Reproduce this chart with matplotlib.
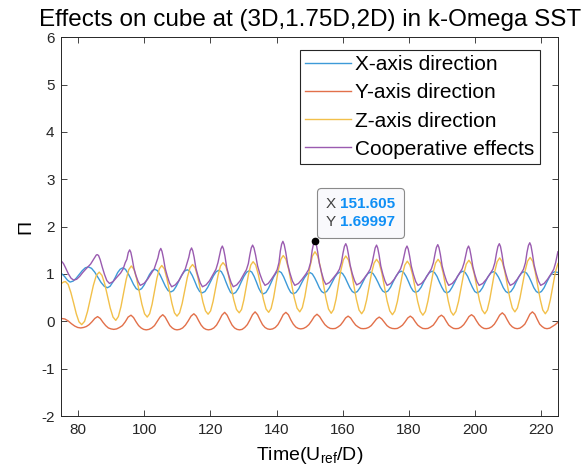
import matplotlib
matplotlib.use('Agg')
import matplotlib.pyplot as plt
from matplotlib.offsetbox import TextArea, HPacker, VPacker, AnnotationBbox

plt.rcParams['font.family'] = ['Liberation Sans', 'DejaVu Sans']
plt.rcParams['axes.unicode_minus'] = False

# (time, value)
x_pts = [(75.0, 1.01), (75.9, 0.95), (76.8, 0.87), (77.6, 0.83),
         (78.52, 0.85), (79.43, 0.91), (80.35, 0.99), (81.27, 1.07), (82.18, 1.13), (83.1, 1.15),
         (84.07, 1.12), (85.03, 1.04), (86.0, 0.93), (86.97, 0.82), (87.93, 0.74), (88.9, 0.71),
         (89.67, 0.74), (90.43, 0.82), (91.2, 0.92), (91.97, 1.03), (92.73, 1.10), (93.5, 1.13),
         (94.32, 1.10), (95.13, 1.01), (95.95, 0.90), (96.77, 0.78), (97.58, 0.69), (98.4, 0.66),
         (99.2, 0.69), (100.0, 0.77), (100.8, 0.88), (101.6, 0.99), (102.4, 1.07), (103.2, 1.10),
         (104.0, 1.07), (104.8, 0.98), (105.6, 0.86), (106.4, 0.74), (107.2, 0.65), (108.0, 0.62),
         (108.83, 0.65), (109.67, 0.74), (110.5, 0.86), (111.33, 0.97), (112.17, 1.06), (113.0, 1.09),
         (113.75, 1.06), (114.5, 0.97), (115.25, 0.85), (116.0, 0.72), (116.75, 0.63), (117.5, 0.60),
         (118.35, 0.63), (119.2, 0.72), (120.05, 0.84), (120.9, 0.96), (121.75, 1.05), (122.6, 1.08),
         (123.3, 1.05), (124.0, 0.96), (124.7, 0.83), (125.4, 0.71), (126.1, 0.61), (126.8, 0.58),
         (127.63, 0.61), (128.47, 0.70), (129.3, 0.83), (130.13, 0.95), (130.97, 1.04), (131.8, 1.07),
         (132.5, 1.04), (133.2, 0.95), (133.9, 0.83), (134.6, 0.70), (135.3, 0.61), (136.0, 0.58),
         (136.78, 0.61), (137.57, 0.70), (138.35, 0.82), (139.13, 0.94), (139.92, 1.03), (140.7, 1.06),
         (141.42, 1.03), (142.13, 0.94), (142.85, 0.82), (143.57, 0.70), (144.28, 0.61), (145.0, 0.58),
         (145.85, 0.61), (146.7, 0.69), (147.55, 0.81), (148.4, 0.92), (149.25, 1.00), (150.1, 1.03),
         (150.8, 1.00), (151.5, 0.92), (152.2, 0.82), (152.9, 0.71), (153.6, 0.63), (154.3, 0.60),
         (155.12, 0.63), (155.93, 0.71), (156.75, 0.82), (157.57, 0.93), (158.38, 1.01), (159.2, 1.04),
         (159.93, 1.01), (160.67, 0.93), (161.4, 0.82), (162.13, 0.71), (162.87, 0.63), (163.6, 0.60),
         (164.4, 0.63), (165.2, 0.71), (166.0, 0.82), (166.8, 0.93), (167.6, 1.01), (168.4, 1.04),
         (169.13, 1.01), (169.87, 0.93), (170.6, 0.83), (171.33, 0.72), (172.07, 0.64), (172.8, 0.61),
         (173.62, 0.64), (174.43, 0.72), (175.25, 0.84), (176.07, 0.95), (176.88, 1.03), (177.7, 1.06),
         (178.42, 1.03), (179.13, 0.95), (179.85, 0.84), (180.57, 0.72), (181.28, 0.64), (182.0, 0.61),
         (182.83, 0.64), (183.67, 0.72), (184.5, 0.84), (185.33, 0.95), (186.17, 1.03), (187.0, 1.06),
         (187.73, 1.03), (188.47, 0.95), (189.2, 0.83), (189.93, 0.72), (190.67, 0.63), (191.4, 0.60),
         (192.22, 0.63), (193.03, 0.72), (193.85, 0.83), (194.67, 0.95), (195.48, 1.03), (196.3, 1.06),
         (197.02, 1.03), (197.73, 0.95), (198.45, 0.83), (199.17, 0.72), (199.88, 0.63), (200.6, 0.60),
         (201.42, 0.63), (202.23, 0.71), (203.05, 0.83), (203.87, 0.94), (204.68, 1.02), (205.5, 1.05),
         (206.25, 1.02), (207.0, 0.94), (207.75, 0.83), (208.5, 0.71), (209.25, 0.63), (210.0, 0.60),
         (210.8, 0.63), (211.6, 0.71), (212.4, 0.83), (213.2, 0.94), (214.0, 1.02), (214.8, 1.05),
         (215.53, 1.02), (216.27, 0.94), (217.0, 0.83), (217.73, 0.71), (218.47, 0.63), (219.2, 0.60),
         (220.02, 0.63), (220.83, 0.71), (221.65, 0.83), (222.47, 0.94), (223.28, 1.02), (224.1, 1.05),
         (225.0, 1.03)]

y_pts = [(75.0, 0.06), (76.0, 0.05), (77.0, 0.01), (78.0, -0.05), (79.0, -0.10), (79.9, -0.13), (80.8, -0.14),
         (81.65, -0.13), (82.5, -0.11), (83.35, -0.07), (84.2, -0.01), (85.05, 0.06), (85.9, 0.10),
         (86.72, 0.06), (87.53, -0.02), (88.35, -0.09), (89.17, -0.14), (89.98, -0.16), (90.8, -0.17),
         (91.67, -0.16), (92.53, -0.13), (93.4, -0.09), (94.27, -0.01), (95.13, 0.09), (96.0, 0.13),
         (96.77, 0.08), (97.53, -0.01), (98.3, -0.09), (99.07, -0.14), (99.83, -0.17), (100.6, -0.18),
         (101.43, -0.17), (102.27, -0.14), (103.1, -0.09), (103.93, 0.00), (104.77, 0.09), (105.6, 0.14),
         (106.32, 0.09), (107.03, 0.00), (107.75, -0.09), (108.47, -0.14), (109.18, -0.17), (109.9, -0.18),
         (110.75, -0.17), (111.6, -0.14), (112.45, -0.08), (113.3, 0.01), (114.15, 0.11), (115.0, 0.16),
         (115.73, 0.11), (116.47, 0.01), (117.2, -0.08), (117.93, -0.14), (118.67, -0.17), (119.4, -0.18),
         (120.22, -0.17), (121.03, -0.14), (121.85, -0.08), (122.67, 0.02), (123.48, 0.13), (124.3, 0.19),
         (125.05, 0.13), (125.8, 0.02), (126.55, -0.08), (127.3, -0.14), (128.05, -0.17), (128.8, -0.18),
         (129.58, -0.17), (130.37, -0.13), (131.15, -0.07), (131.93, 0.03), (132.72, 0.14), (133.5, 0.20),
         (134.25, 0.14), (135.0, 0.03), (135.75, -0.07), (136.5, -0.13), (137.25, -0.16), (138.0, -0.17),
         (138.8, -0.16), (139.6, -0.13), (140.4, -0.07), (141.2, 0.03), (142.0, 0.14), (142.8, 0.19),
         (143.55, 0.14), (144.3, 0.03), (145.05, -0.06), (145.8, -0.12), (146.55, -0.15), (147.3, -0.16),
         (148.12, -0.15), (148.93, -0.12), (149.75, -0.07), (150.57, 0.01), (151.38, 0.10), (152.2, 0.15),
         (153.0, 0.10), (153.8, 0.01), (154.6, -0.07), (155.4, -0.12), (156.2, -0.15), (157.0, -0.155),
         (157.77, -0.15), (158.53, -0.12), (159.3, -0.08), (160.07, -0.01), (160.83, 0.07), (161.6, 0.11),
         (162.37, 0.07), (163.13, -0.01), (163.9, -0.08), (164.67, -0.12), (165.43, -0.15), (166.2, -0.155),
         (167.0, -0.15), (167.8, -0.13), (168.6, -0.09), (169.4, -0.02), (170.2, 0.05), (171.0, 0.09),
         (171.78, 0.05), (172.57, -0.02), (173.35, -0.09), (174.13, -0.13), (174.92, -0.15), (175.7, -0.155),
         (176.48, -0.15), (177.27, -0.12), (178.05, -0.08), (178.83, -0.01), (179.62, 0.07), (180.4, 0.11),
         (181.15, 0.07), (181.9, -0.01), (182.65, -0.08), (183.4, -0.12), (184.15, -0.15), (184.9, -0.155),
         (185.72, -0.15), (186.53, -0.12), (187.35, -0.08), (188.17, 0.00), (188.98, 0.09), (189.8, 0.13),
         (190.53, 0.09), (191.27, 0.00), (192.0, -0.08), (192.73, -0.12), (193.47, -0.15), (194.2, -0.155),
         (194.98, -0.15), (195.77, -0.12), (196.55, -0.07), (197.33, 0.01), (198.12, 0.10), (198.9, 0.14),
         (199.65, 0.10), (200.4, 0.01), (201.15, -0.07), (201.9, -0.12), (202.65, -0.15), (203.4, -0.155),
         (204.2, -0.145), (205.0, -0.115), (205.8, -0.06), (206.6, 0.03), (207.4, 0.13), (208.2, 0.18),
         (208.95, 0.13), (209.7, 0.03), (210.45, -0.06), (211.2, -0.115), (211.95, -0.145), (212.7, -0.155),
         (213.47, -0.145), (214.23, -0.11), (215.0, -0.06), (215.77, 0.04), (216.53, 0.15), (217.3, 0.20),
         (218.03, 0.15), (218.77, 0.04), (219.5, -0.06), (220.23, -0.11), (220.97, -0.145), (221.7, -0.155),
         (222.5, -0.145), (223.3, -0.11), (224.2, -0.07), (225.0, -0.02)]

z_pts = [(75.0, 0.80), (75.6, 0.83), (76.2, 0.84),
         (77.02, 0.78), (77.83, 0.61), (78.65, 0.39), (79.47, 0.16), (80.28, -0.01), (81.1, -0.07),
         (81.98, 0.00), (82.87, 0.21), (83.75, 0.49), (84.63, 0.76), (85.52, 0.97), (86.4, 1.04),
         (87.23, 0.97), (88.07, 0.79), (88.9, 0.53), (89.73, 0.28), (90.57, 0.09), (91.4, 0.02),
         (92.18, 0.10), (92.97, 0.31), (93.75, 0.60), (94.53, 0.88), (95.32, 1.09), (96.1, 1.17),
         (96.9, 1.10), (97.7, 0.90), (98.5, 0.63), (99.3, 0.36), (100.1, 0.16), (100.9, 0.09),
         (101.63, 0.16), (102.37, 0.36), (103.1, 0.64), (103.83, 0.91), (104.57, 1.11), (105.3, 1.18),
         (106.07, 1.11), (106.83, 0.91), (107.6, 0.65), (108.37, 0.38), (109.13, 0.18), (109.9, 0.11),
         (110.68, 0.18), (111.47, 0.38), (112.25, 0.66), (113.03, 0.93), (113.82, 1.13), (114.6, 1.20),
         (115.38, 1.13), (116.17, 0.94), (116.95, 0.68), (117.73, 0.41), (118.52, 0.22), (119.3, 0.15),
         (120.05, 0.22), (120.8, 0.42), (121.55, 0.70), (122.3, 0.97), (123.05, 1.17), (123.8, 1.24),
         (124.62, 1.17), (125.43, 0.98), (126.25, 0.71), (127.07, 0.45), (127.88, 0.25), (128.7, 0.18),
         (129.4, 0.25), (130.1, 0.45), (130.8, 0.72), (131.5, 0.99), (132.2, 1.19), (132.9, 1.26),
         (133.68, 1.19), (134.47, 0.99), (135.25, 0.73), (136.03, 0.46), (136.82, 0.26), (137.6, 0.19),
         (138.33, 0.27), (139.07, 0.49), (139.8, 0.79), (140.53, 1.09), (141.27, 1.31), (142.0, 1.39),
         (142.83, 1.31), (143.67, 1.09), (144.5, 0.80), (145.33, 0.50), (146.17, 0.28), (147.0, 0.20),
         (147.77, 0.29), (148.53, 0.52), (149.3, 0.84), (150.07, 1.15), (150.83, 1.38), (151.6, 1.47),
         (152.42, 1.38), (153.23, 1.15), (154.05, 0.82), (154.87, 0.50), (155.68, 0.26), (156.5, 0.17),
         (157.23, 0.25), (157.97, 0.47), (158.7, 0.78), (159.43, 1.08), (160.17, 1.30), (160.9, 1.38),
         (161.7, 1.30), (162.5, 1.08), (163.3, 0.77), (164.1, 0.47), (164.9, 0.24), (165.7, 0.16),
         (166.45, 0.24), (167.2, 0.45), (167.95, 0.74), (168.7, 1.02), (169.45, 1.23), (170.2, 1.31),
         (171.0, 1.23), (171.8, 1.02), (172.6, 0.73), (173.4, 0.43), (174.2, 0.22), (175.0, 0.14),
         (175.75, 0.22), (176.5, 0.42), (177.25, 0.71), (178.0, 0.99), (178.75, 1.19), (179.5, 1.27),
         (180.28, 1.19), (181.07, 0.99), (181.85, 0.70), (182.63, 0.42), (183.42, 0.21), (184.2, 0.13),
         (184.97, 0.21), (185.73, 0.43), (186.5, 0.72), (187.27, 1.02), (188.03, 1.23), (188.8, 1.31),
         (189.57, 1.23), (190.33, 1.02), (191.1, 0.72), (191.87, 0.43), (192.63, 0.21), (193.4, 0.13),
         (194.18, 0.21), (194.97, 0.42), (195.75, 0.71), (196.53, 1.00), (197.32, 1.21), (198.1, 1.29),
         (198.9, 1.21), (199.7, 1.01), (200.5, 0.73), (201.3, 0.44), (202.1, 0.24), (202.9, 0.16),
         (203.65, 0.24), (204.4, 0.46), (205.15, 0.75), (205.9, 1.05), (206.65, 1.26), (207.4, 1.34),
         (208.17, 1.26), (208.93, 1.06), (209.7, 0.77), (210.47, 0.49), (211.23, 0.28), (212.0, 0.20),
         (212.77, 0.28), (213.53, 0.49), (214.3, 0.78), (215.07, 1.06), (215.83, 1.27), (216.6, 1.35),
         (217.37, 1.27), (218.13, 1.05), (218.9, 0.76), (219.67, 0.46), (220.43, 0.24), (221.2, 0.16),
         (221.97, 0.24), (222.73, 0.46), (223.5, 0.76), (224.27, 1.05), (225.0, 1.22)]

coop_pts = [(75.0, 1.27), (75.6, 1.22), (76.3, 1.12), (77.1, 1.00), (77.9, 0.91), (78.7, 0.87),
            (79.6, 0.89), (80.5, 0.95), (81.4, 1.03), (82.3, 1.10), (83.0, 1.15), (83.8, 1.21),
            (84.5, 1.29), (85.1, 1.36), (85.5, 1.40), (85.8, 1.41), (86.2, 1.39), (86.7, 1.30),
            (87.3, 1.15), (88.0, 0.99), (88.7, 0.86), (89.5, 0.80),
            (90.6, 0.84), (91.7, 0.93), (92.86, 1.02), (93.65, 1.11), (94.26, 1.24), (94.75, 1.31),
            (95.17, 1.45), (95.6, 1.51), (95.95, 1.46), (96.37, 1.32), (96.88, 1.12), (97.49, 0.97),
            (98.16, 0.84), (98.8, 0.76),
            (99.92, 0.80), (101.03, 0.89), (102.21, 1.02), (103.02, 1.11), (103.64, 1.24), (104.13, 1.34),
            (104.57, 1.48), (105.0, 1.54), (105.36, 1.48), (105.79, 1.34), (106.32, 1.12), (106.95, 0.96),
            (107.64, 0.81), (108.3, 0.73),
            (109.38, 0.77), (110.46, 0.86), (111.6, 1.01), (112.38, 1.10), (112.98, 1.24), (113.46, 1.35),
            (113.88, 1.49), (114.3, 1.55), (114.66, 1.49), (115.09, 1.35), (115.62, 1.12), (116.25, 0.96),
            (116.94, 0.81), (117.6, 0.73),
            (118.68, 0.77), (119.76, 0.86), (120.9, 1.00), (121.68, 1.10), (122.28, 1.24), (122.76, 1.39),
            (123.18, 1.53), (123.6, 1.59), (123.96, 1.53), (124.39, 1.38), (124.92, 1.14), (125.55, 0.97),
            (126.24, 0.82), (126.9, 0.73),
            (127.95, 0.77), (129.01, 0.86), (130.12, 1.00), (130.88, 1.09), (131.46, 1.22), (131.93, 1.41),
            (132.34, 1.55), (132.75, 1.61), (133.16, 1.55), (133.65, 1.40), (134.25, 1.17), (134.96, 1.00),
            (135.75, 0.85), (136.5, 0.76),
            (137.47, 0.80), (138.44, 0.89), (139.47, 1.00), (140.17, 1.09), (140.71, 1.24), (141.14, 1.49),
            (141.52, 1.63), (141.9, 1.69), (142.3, 1.62), (142.76, 1.46), (143.34, 1.21), (144.02, 1.02),
            (144.78, 0.85), (145.5, 0.76),
            (146.6, 0.80), (147.7, 0.89), (148.86, 1.00), (149.65, 1.09), (150.26, 1.24), (150.75, 1.50),
            (151.17, 1.64), (151.605, 1.69997), (151.97, 1.64), (152.4, 1.47), (152.93, 1.22), (153.55, 1.04),
            (154.24, 0.87), (154.9, 0.78),
            (155.98, 0.82), (157.06, 0.91), (158.2, 1.01), (158.98, 1.10), (159.58, 1.24), (160.06, 1.44),
            (160.48, 1.58), (160.9, 1.64), (161.26, 1.58), (161.69, 1.42), (162.22, 1.19), (162.85, 1.01),
            (163.54, 0.86), (164.2, 0.77),
            (165.28, 0.81), (166.36, 0.90), (167.5, 1.01), (168.28, 1.10), (168.88, 1.24), (169.36, 1.41),
            (169.78, 1.55), (170.2, 1.61), (170.55, 1.55), (170.97, 1.40), (171.48, 1.17), (172.09, 1.00),
            (172.76, 0.85), (173.4, 0.76),
            (174.48, 0.80), (175.56, 0.89), (176.7, 1.02), (177.48, 1.11), (178.08, 1.24), (178.56, 1.39),
            (178.98, 1.53), (179.4, 1.59), (179.76, 1.53), (180.19, 1.38), (180.72, 1.16), (181.35, 0.99),
            (182.04, 0.84), (182.7, 0.76),
            (183.78, 0.80), (184.86, 0.89), (186.0, 1.02), (186.78, 1.11), (187.38, 1.24), (187.86, 1.42),
            (188.28, 1.56), (188.7, 1.62), (189.06, 1.56), (189.49, 1.41), (190.02, 1.17), (190.65, 1.00),
            (191.34, 0.85), (192.0, 0.76),
            (193.08, 0.80), (194.16, 0.89), (195.3, 1.02), (196.08, 1.11), (196.68, 1.24), (197.16, 1.39),
            (197.58, 1.53), (198.0, 1.59), (198.35, 1.53), (198.77, 1.38), (199.28, 1.16), (199.89, 0.99),
            (200.56, 0.84), (201.2, 0.76),
            (202.3, 0.80), (203.4, 0.89), (204.56, 1.01), (205.35, 1.10), (205.96, 1.24), (206.45, 1.44),
            (206.87, 1.58), (207.3, 1.64), (207.66, 1.58), (208.09, 1.42), (208.62, 1.18), (209.25, 1.01),
            (209.94, 0.85), (210.6, 0.76),
            (211.66, 0.80), (212.72, 0.89), (213.85, 1.01), (214.61, 1.10), (215.2, 1.24), (215.67, 1.46),
            (216.09, 1.60), (216.5, 1.66), (216.86, 1.60), (217.29, 1.43), (217.82, 1.19), (218.45, 1.01),
            (219.14, 0.85), (219.8, 0.76),
            (220.84, 0.80), (221.89, 0.89), (222.99, 1.01), (223.74, 1.10), (224.32, 1.24), (224.79, 1.40),
            (225.0, 1.47)]

labels = ['X-axis direction', 'Y-axis direction', 'Z-axis direction', 'Cooperative effects']
colors = ['#3d9ad8', '#e2704a', '#f2c04a', '#9a5bb0']

tip_x, tip_y = 151.605, 1.69997

fig = plt.figure(figsize=(5.84, 4.73), dpi=100)
ax = fig.add_axes([0.1053, 0.1205, 0.850, 0.8006])

for pts, lab, c in zip([x_pts, y_pts, z_pts, coop_pts], labels, colors):
    t, v = zip(*pts)
    ax.plot(t, v, color=c, lw=1.0, label=lab)

ax.set_xlim(75, 225)
ax.set_ylim(-2, 6)
ax.set_xticks(range(80, 221, 20))
ax.set_yticks(range(-2, 7))

for s in ax.spines.values():
    s.set_color('#262626')
    s.set_linewidth(0.7)
ax.tick_params(direction='in', top=True, right=True, length=4, width=0.6,
               labelsize=11, colors='#262626', pad=5)

ax.set_title('Effects on cube at (3D,1.75D,2D) in k-Omega SST', fontsize=17.5, pad=8)
ax.set_xlabel('Time(U$_\\mathregular{ref}$/D)', fontsize=14, labelpad=6)
ax.set_ylabel('\u03a0', fontsize=14, labelpad=5)

leg = ax.legend(loc='upper right', bbox_to_anchor=(0.9637, 0.9665), borderaxespad=0,
                fontsize=15, handlelength=2.2, handletextpad=0.2, labelspacing=0.44,
                borderpad=0.25, fancybox=False, framealpha=1, edgecolor='#262626')
leg.get_frame().set_linewidth(0.8)

# data tip
ax.plot([tip_x], [tip_y], 'o', color='black', ms=4.5, zorder=5)
row1 = HPacker(children=[TextArea('X', textprops=dict(color='#404040', fontsize=11)),
                         TextArea('151.605', textprops=dict(color='#0f8ff5', fontsize=11,
                                                            fontweight='bold'))],
               pad=0, sep=3)
row2 = HPacker(children=[TextArea('Y', textprops=dict(color='#404040', fontsize=11)),
                         TextArea('1.69997', textprops=dict(color='#0f8ff5', fontsize=11,
                                                            fontweight='bold'))],
               pad=0, sep=3)
tip = VPacker(children=[row1, row2], align='left', pad=0, sep=3)
ab = AnnotationBbox(tip, (tip_x, tip_y), xybox=(11, 12), xycoords='data',
                    boxcoords='offset pixels', box_alignment=(0, 0), pad=0,
                    bboxprops=dict(boxstyle='round,pad=0.65,rounding_size=0.3',
                                   fc='#f9f9fc', ec='#8a8a8a', lw=0.8))
ax.add_artist(ab)

fig.savefig('out.png', dpi=100)
